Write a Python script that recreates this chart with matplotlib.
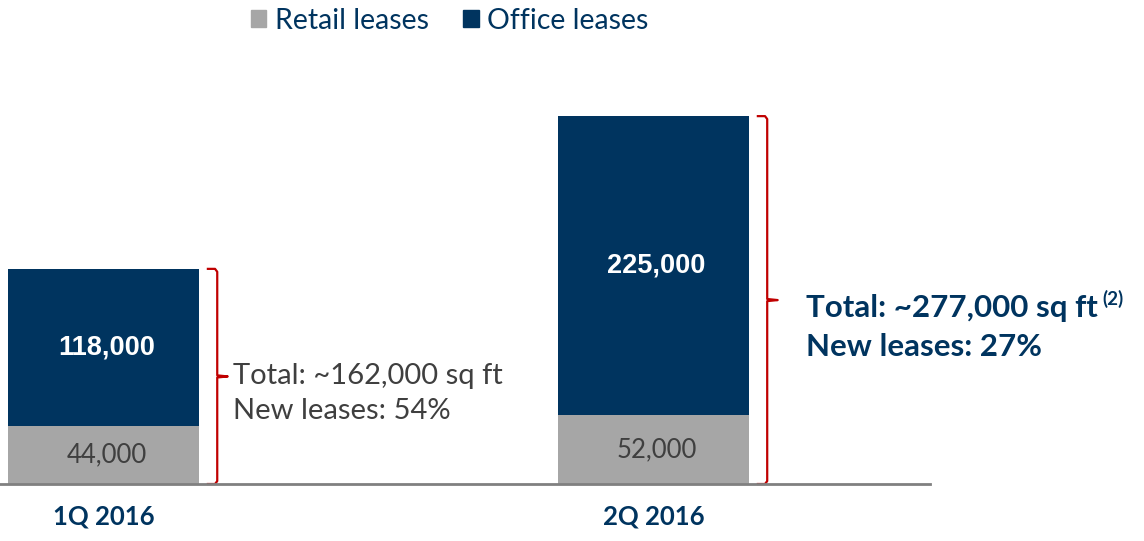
import matplotlib.pyplot as plt
from matplotlib.patches import Patch

# data
quarters = ['1Q 2016', '2Q 2016']
retail = [44000, 52000]
office = [118000, 225000]
totals_text = ['Total: ~162,000 sq ft', 'Total: ~277,000 sq ft']
new_leases_text = ['New leases: 54%', 'New leases: 27%']

navy = '#00345F'
gray = '#A6A6A6'
red = '#C00000'
txt_gray = '#3F3F3F'

plt.rcParams['font.family'] = ['Lato', 'DejaVu Sans']

fig = plt.figure(figsize=(11.44, 5.41), dpi=100)
ax = fig.add_axes([0, 57 / 541, 930 / 1144, 484 / 541])

x = [0, 1]
w = 0.347
ax.bar(x, retail, width=w, color=gray)
ax.bar(x, office, width=w, bottom=retail, color=navy)

ax.set_xlim(-0.188, 1.503)
ax.set_ylim(0, 484 * 753)

for i in range(2):
    ax.text(x[i] + 0.006, retail[i] / 2, f'{retail[i]:,}', ha='center', va='center',
            fontsize=18.5, color=txt_gray)
    ax.text(x[i] + 0.006, retail[i] + office[i] / 2, f'{office[i]:,}', ha='center', va='center',
            fontsize=19.5, color='white', fontweight='bold', family='Liberation Sans')

# curly-ish brackets on the right of each bar
for i in range(2):
    tot = retail[i] + office[i]
    mid = tot / 2
    xl = x[i] + 0.19
    xv = x[i] + 0.207
    xr = x[i] + 0.226
    d = 2200
    ax.plot([xl, xv - 0.004, xv, xv, xr, xv, xv, xv - 0.004, xl],
            [tot, tot, tot - d, mid + 800, mid, mid - 800, d, 0, 0],
            color=red, lw=1.6, clip_on=False, solid_joinstyle='round')

# annotations
ax.annotate(totals_text[0], xy=(x[0] + 0.226, 81000), xytext=(4, 0),
            textcoords='offset points', va='center', ha='left',
            fontsize=21, color=txt_gray)
ax.annotate(new_leases_text[0], xy=(x[0] + 0.226, 81000), xytext=(4, -25),
            textcoords='offset points', va='center', ha='left',
            fontsize=21, color=txt_gray)

t2 = ax.annotate(totals_text[1], xy=(x[1] + 0.23, 139000), xytext=(19, -6),
                 textcoords='offset points', va='center', ha='left',
                 fontsize=22.5, color=navy, fontweight='bold')
ax.annotate('(2)', xy=(1, 0.8), xycoords=t2, xytext=(3, 0),
            textcoords='offset points', va='center', ha='left',
            fontsize=13.5, color=navy, fontweight='bold')
ax.annotate(new_leases_text[1], xy=(x[1] + 0.23, 139000), xytext=(19, -34),
            textcoords='offset points', va='center', ha='left',
            fontsize=22.5, color=navy, fontweight='bold')

# axis styling
for s in ['top', 'right', 'left']:
    ax.spines[s].set_visible(False)
ax.spines['bottom'].set_color('#808080')
ax.spines['bottom'].set_linewidth(2)
ax.set_yticks([])
ax.set_xticks(x)
ax.set_xticklabels(quarters, fontsize=18.5, fontweight='bold', color=navy)
ax.tick_params(axis='x', length=0, pad=15)

handles = [Patch(color=gray, label='Retail leases'), Patch(color=navy, label='Office leases')]
fig.legend(handles=handles, loc='center', bbox_to_anchor=(0.393, 0.962), ncol=2,
           frameon=False, fontsize=20.5, handlelength=0.55, handleheight=0.55,
           handletextpad=0.3, columnspacing=1.2, labelcolor=navy)

fig.savefig('out.png', dpi=100)
